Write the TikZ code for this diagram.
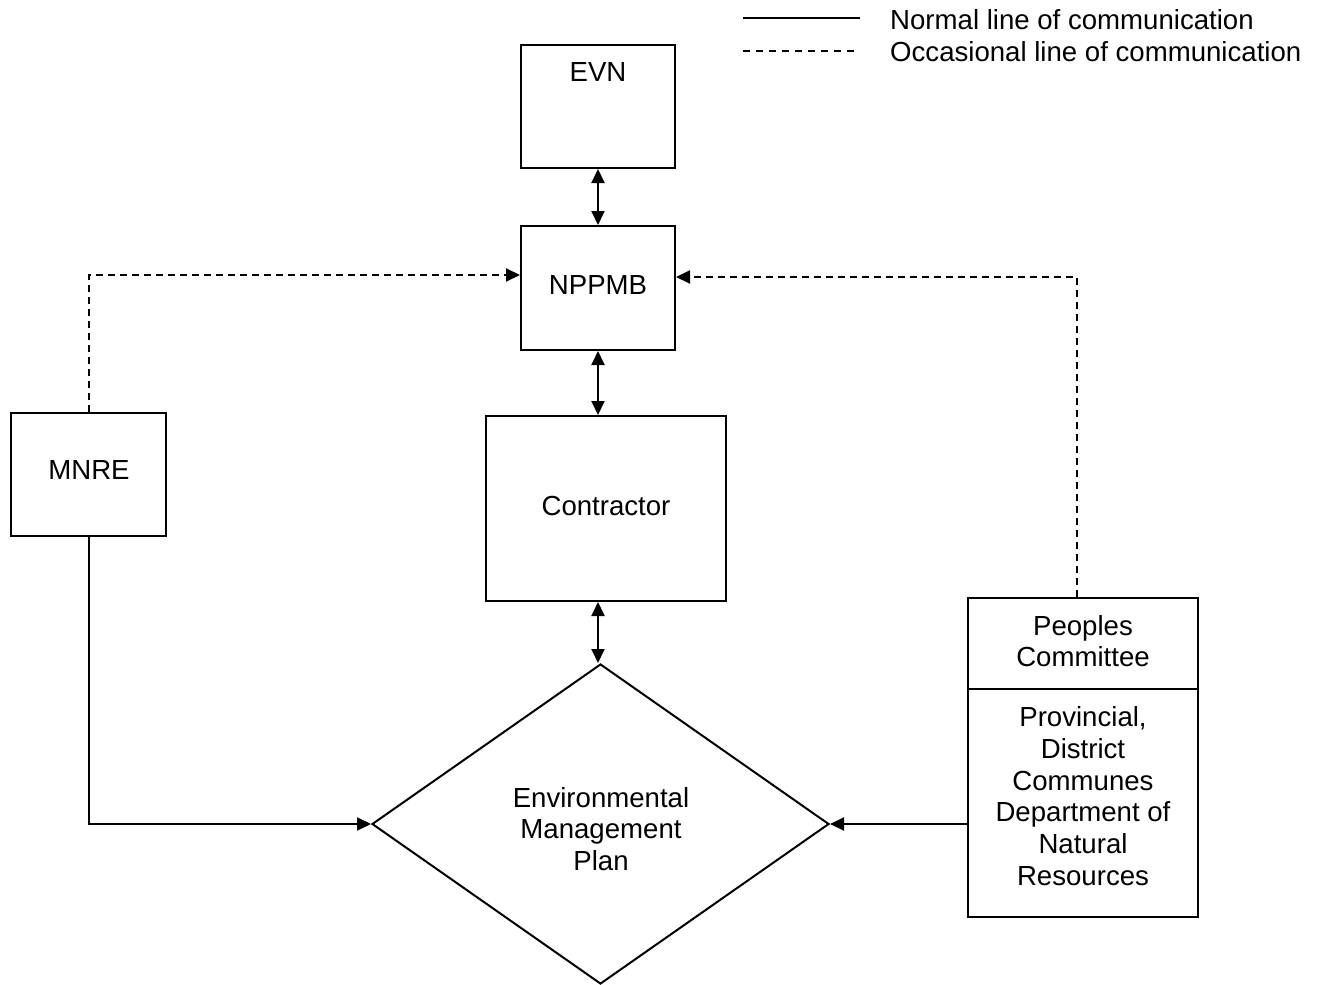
\documentclass[tikz,border=0pt]{standalone}
\usepackage{fontspec}
\setmainfont{Liberation Sans}
\usetikzlibrary{arrows.meta,shapes.geometric,calc}
\begin{document}
\begin{tikzpicture}[x=1pt,y=-1pt,
  every node/.style={font=\fontsize{27.6}{31.7}\selectfont},
  box/.style={draw,line width=2pt,rectangle,inner sep=0pt},
  txt/.style={align=center,inner sep=0pt},
  conn/.style={line width=2pt},
  occ/.style={line width=2pt,dash pattern=on 7pt off 5pt},
  tip/.style={-{Triangle[length=14pt,width=13pt]}},
  dtip/.style={{Triangle[length=14pt,width=13pt]}-{Triangle[length=14pt,width=13pt]}}]
\useasboundingbox (0,0) rectangle (1320,985);
% boxes
\node[box,minimum width=154pt,minimum height=123pt] (evn) at (598,106.5) {};
\node[txt] (evnt) at (598,72) {EVN};
\node[box,minimum width=154pt,minimum height=124pt] (nppmb) at (598,288) {};
\node[txt] (nppmbt) at (598,285) {NPPMB};
\node[box,minimum width=240pt,minimum height=185pt] (con) at (606,508.5) {};
\node[txt] (cont) at (606,506) {Contractor};
\node[box,minimum width=155pt,minimum height=123pt] (mnre) at (88.5,474.5) {};
\node[txt] (mnret) at (89,470) {MNRE};
\node[box,minimum width=230pt,minimum height=91pt] (pc1) at (1083,643.5) {};
\node[txt] (pc1t) at (1083,641) {Peoples\\Committee};
\node[box,minimum width=230pt,minimum height=228pt] (pc2) at (1083,803) {};
\node[txt] (pc2t) at (1083,796) {Provincial,\\District\\Communes\\Department of\\Natural\\Resources};
\node[draw,diamond,line width=2pt,inner sep=0pt,minimum width=457pt,minimum height=320pt] (emp) at (600.5,824) {};
\node[txt] (empt) at (601,829) {Environmental\\Management\\Plan};
% connectors
\draw[conn,dtip] (evn.south) -- (nppmb.north);
\draw[conn,dtip] (nppmb.south) -- (nppmb.south |- con.north);
\draw[conn,dtip] (con.south -| nppmb.south) -- (emp.north -| nppmb.south);
\draw[occ,tip] (mnre.north) |- ([yshift=13pt]nppmb.west);
\draw[occ,tip] ([xshift=-6pt]pc1.north) |- ([yshift=11pt]nppmb.east);
\draw[conn,tip] (mnre.south) |- (emp.west);
\draw[conn,tip] (pc2.west |- emp.east) -- (emp.east);
% legend
\coordinate (la) at (743,18);
\coordinate (lb) at (860,18);
\coordinate (lc) at (743,51);
\coordinate (ld) at (860,51);
\draw[conn] (la) -- (lb);
\draw[line width=2pt,dash pattern=on 7pt off 6pt] (lc) -- (ld);
\node[txt,anchor=west] (l1) at (890,20) {Normal line of communication};
\node[txt,anchor=west] (l2) at (890,52) {Occasional line of communication};
\end{tikzpicture}
\end{document}
